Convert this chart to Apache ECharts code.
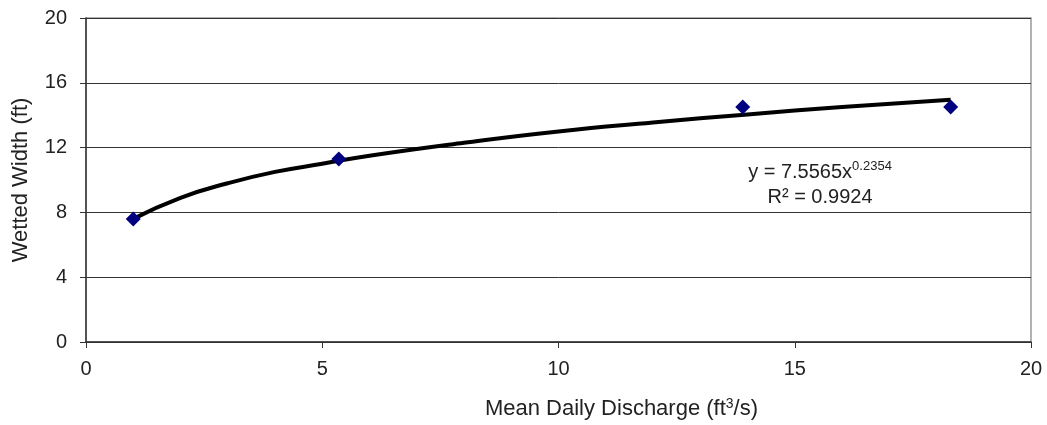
<!DOCTYPE html>
<html>
<head>
<meta charset="utf-8">
<script src="https://cdn.jsdelivr.net/npm/echarts@6/dist/echarts.min.js"></script>
<style>
  html, body { margin: 0; padding: 0; background: #fff; }
  #chart { width: 1047px; height: 425px; }
</style>
</head>
<body>
<div id="chart"></div>
<script>
// measured points
var discharge = [1.0, 5.35, 13.9, 18.3];
var width = [7.6, 11.3, 14.5, 14.5];

// trendline
var trendX = [1.0, 2, 3, 4, 5, 6, 8, 10, 12, 14, 16, 18.3];
var trendY = [7.6, 8.9, 9.8, 10.5, 11.0, 11.5, 12.3, 13.0, 13.55, 14.05, 14.5, 14.95];

var xTicks = [0, 5, 10, 15, 20];
var yTicks = [0, 4, 8, 12, 16, 20];

var chart = echarts.init(document.getElementById('chart'));

var pts = [];
for (var i = 0; i < discharge.length; i++) pts.push([discharge[i], width[i]]);
var trend = [];
for (var j = 0; j < trendX.length; j++) trend.push([trendX[j], trendY[j]]);

var font = 'Liberation Sans, Arial, sans-serif';

var option = {
    animation: false,
    textStyle: { fontFamily: font },
    grid: { left: 86, right: 16, top: 18, bottom: 82, show: true, borderColor: '#999', borderWidth: 1.5 },
    xAxis: {
        type: 'value',
        min: xTicks[0],
        max: xTicks[xTicks.length - 1],
        interval: 5,
        name: 'Mean Daily Discharge (ft{sup|3}/s)',
        nameLocation: 'middle',
        nameGap: 55,
        nameTextStyle: {
            fontSize: 22, color: '#222',
            padding: [0, 0, 0, 126],
            rich: { sup: { fontSize: 14, color: '#222', verticalAlign: 'top', padding: [0, 0, 10, 0] } }
        },
        axisLine: { show: true, lineStyle: { color: '#333', width: 1.5 } },
        axisTick: { show: true, length: 6, lineStyle: { color: '#333' } },
        axisLabel: { fontSize: 20, color: '#222', margin: 17 },
        splitLine: { show: false }
    },
    yAxis: {
        type: 'value',
        min: yTicks[0],
        max: yTicks[yTicks.length - 1],
        interval: 4,
        name: 'Wetted Width (ft)',
        nameLocation: 'middle',
        nameGap: 54,
        nameTextStyle: { fontSize: 22, color: '#222' },
        axisLine: { show: true, lineStyle: { color: '#333', width: 1.5 } },
        axisTick: { show: true, length: 6, lineStyle: { color: '#333' } },
        axisLabel: { fontSize: 20, color: '#222', margin: 19 },
        splitLine: { show: true, lineStyle: { color: '#333', width: 1 } }
    },
    series: [
        {
            name: 'trend',
            type: 'line',
            data: trend,
            smooth: true,
            showSymbol: false,
            lineStyle: { color: '#000', width: 4 },
            z: 2
        },
        {
            name: 'width',
            type: 'scatter',
            data: pts,
            symbol: 'diamond',
            symbolSize: [15, 15],
            itemStyle: { color: '#000080', opacity: 1 },
            z: 3
        }
    ],
    graphic: [
        {
            type: 'text',
            x: 820,
            y: 185,
            style: {
                text: 'y = 7.5565x{sup|0.2354}\nR² = 0.9924',
                fontSize: 20,
                lineHeight: 25,
                align: 'center',
                verticalAlign: 'middle',
                fill: '#222',
                fontFamily: font,
                rich: {
                    sup: { fontSize: 13, fill: '#222', verticalAlign: 'top', padding: [0, 0, 10, 0] }
                }
            }
        }
    ]
};
chart.setOption(option);
</script>
</body>
</html>
